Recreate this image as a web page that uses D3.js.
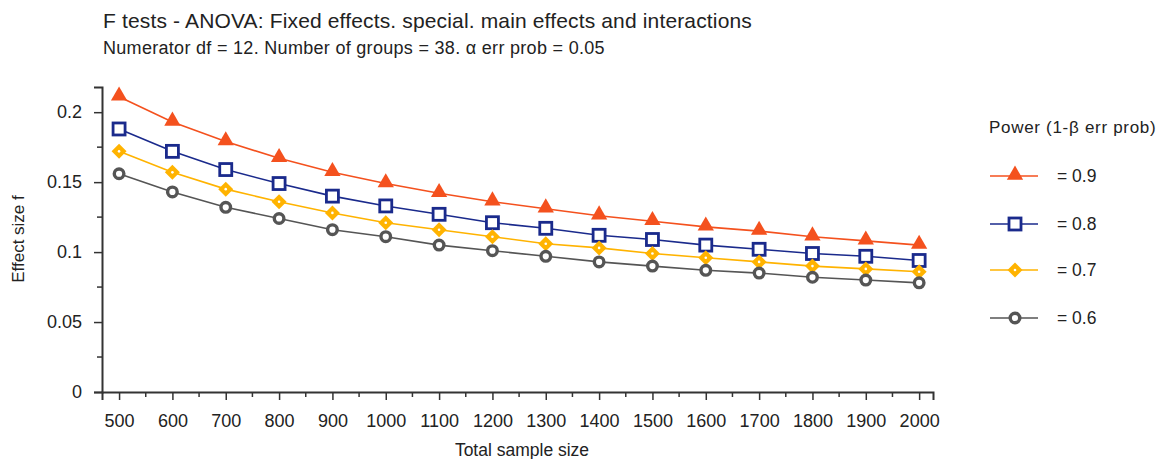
<!DOCTYPE html>
<html>
<head>
<meta charset="utf-8">
<script src="https://cdnjs.cloudflare.com/ajax/libs/d3/7.8.5/d3.min.js"></script>
<style>
  body { margin: 0; background: #fff; }
  text { font-family: "Liberation Sans", Arial, sans-serif; fill: #222; }
</style>
</head>
<body>
<div id="chart"></div>
<script>
// sample sizes on x axis
var sampleSizes = [500, 600, 700, 800, 900, 1000, 1100, 1200, 1300, 1400, 1500, 1600, 1700, 1800, 1900, 2000];

// effect size f for each power level
var power09 = [0.211, 0.193, 0.179, 0.167, 0.157, 0.149, 0.142, 0.136, 0.131, 0.126, 0.122, 0.118, 0.115, 0.111, 0.108, 0.105];
var power08 = [0.188, 0.172, 0.159, 0.149, 0.140, 0.133, 0.127, 0.121, 0.117, 0.112, 0.109, 0.105, 0.102, 0.099, 0.097, 0.094];
var power07 = [0.172, 0.157, 0.145, 0.136, 0.128, 0.121, 0.116, 0.111, 0.106, 0.103, 0.099, 0.096, 0.093, 0.090, 0.088, 0.086];
var power06 = [0.156, 0.143, 0.132, 0.124, 0.116, 0.111, 0.105, 0.101, 0.097, 0.093, 0.090, 0.087, 0.085, 0.082, 0.080, 0.078];

var seriesLabels = ["= 0.9", "= 0.8", "= 0.7", "= 0.6"];
var yTicks = [0, 0.05, 0.1, 0.15, 0.2];
var yMinor = [0.025, 0.075, 0.125, 0.175];

var series = [
  { label: seriesLabels[0], values: power09, color: "#f4511e", shape: "triangle" },
  { label: seriesLabels[1], values: power08, color: "#1a2a8c", shape: "square" },
  { label: seriesLabels[2], values: power07, color: "#ffb300", shape: "diamond" },
  { label: seriesLabels[3], values: power06, color: "#555555", shape: "circle" }
];

var width = 1168, height = 459;

var svg = d3.select("#chart")
  .append("svg")
  .attr("width", width)
  .attr("height", height);

// scales
var x = d3.scaleLinear().domain([468, 2026]).range([102, 933]);
var y = d3.scaleLinear().domain([0, 0.218]).range([392, 87]);

// titles
svg.append("text")
  .attr("x", 103).attr("y", 28)
  .style("font-size", "21px")
  .style("letter-spacing", "0.15px")
  .text("F tests - ANOVA: Fixed effects. special. main effects and interactions");

svg.append("text")
  .attr("x", 103).attr("y", 54)
  .style("font-size", "18px")
  .style("letter-spacing", "0.3px")
  .text("Numerator df = 12. Number of groups = 38. α err prob = 0.05");

// x axis
var xAxis = svg.append("g")
  .attr("transform", "translate(0,392)")
  .call(d3.axisBottom(x).tickValues(sampleSizes).tickSize(8).tickPadding(14).tickFormat(d3.format("d")));
xAxis.selectAll(".tick text").style("font-size", "18px").style("fill", "#222");

// minor x ticks
svg.append("g")
  .selectAll("line")
  .data(sampleSizes.slice(0, -1).map(function(d) { return d + 50; }))
  .enter()
  .append("line")
  .attr("x1", function(d) { return x(d); })
  .attr("x2", function(d) { return x(d); })
  .attr("y1", 392).attr("y2", 397)
  .attr("stroke", "#333").attr("stroke-width", 1.5);

// y axis
var yAxis = svg.append("g")
  .attr("transform", "translate(102,0)")
  .call(d3.axisLeft(y).tickValues(yTicks).tickSize(8).tickPadding(12).tickFormat(function(d) { return String(d); }));
yAxis.selectAll(".tick text").style("font-size", "18px").style("fill", "#222");

svg.append("g")
  .selectAll("line")
  .data(yMinor)
  .enter()
  .append("line")
  .attr("x1", 97).attr("x2", 102)
  .attr("y1", function(d) { return y(d); })
  .attr("y2", function(d) { return y(d); })
  .attr("stroke", "#333").attr("stroke-width", 1.5);

svg.selectAll(".domain").attr("stroke", "#333").attr("stroke-width", 2);
svg.selectAll(".tick line").attr("stroke", "#333").attr("stroke-width", 1.5);

// axis labels
svg.append("text")
  .attr("x", 522).attr("y", 456)
  .attr("text-anchor", "middle")
  .style("font-size", "17.5px")
  .text("Total sample size");

svg.append("text")
  .attr("transform", "translate(24,239) rotate(-90)")
  .attr("text-anchor", "middle")
  .style("font-size", "17px")
  .text("Effect size f");

// marker drawing
function drawMarker(g, shape, color) {
  if (shape === "triangle") {
    g.append("path").attr("d", d3.symbol().type(d3.symbolTriangle).size(115)()).attr("fill", color).attr("transform", "translate(0,-1)");
  } else if (shape === "square") {
    g.append("rect").attr("x", -6).attr("y", -6).attr("width", 12).attr("height", 12)
      .attr("fill", "#fff").attr("stroke", color).attr("stroke-width", 2.8);
  } else if (shape === "diamond") {
    g.append("path").attr("d", "M0,-7.5L7.5,0L0,7.5L-7.5,0Z").attr("fill", color);
    g.append("circle").attr("r", 1.3).attr("fill", "#fff");
  } else {
    g.append("circle").attr("r", 4.8).attr("fill", "#fff").attr("stroke", color).attr("stroke-width", 3.4);
  }
}

var line = d3.line()
  .x(function(d, i) { return x(sampleSizes[i]); })
  .y(function(d) { return y(d); });

series.forEach(function(s) {
  svg.append("path")
    .datum(s.values)
    .attr("fill", "none")
    .attr("stroke", s.color)
    .attr("stroke-width", 1.6)
    .attr("d", line);

  s.values.forEach(function(v, i) {
    var g = svg.append("g").attr("transform", "translate(" + x(sampleSizes[i]) + "," + y(v) + ")");
    drawMarker(g, s.shape, s.color);
  });
});

// legend
svg.append("text")
  .attr("x", 989).attr("y", 133)
  .style("font-size", "17px")
  .style("letter-spacing", "0.7px")
  .text("Power (1-β err prob)");

var legend = svg.append("g")
  .selectAll("g")
  .data(series)
  .enter()
  .append("g")
  .attr("transform", function(d, i) { return "translate(0," + [176, 224, 270, 318][i] + ")"; });

legend.append("line")
  .attr("x1", 990).attr("x2", 1038)
  .attr("stroke", function(d) { return d.color; })
  .attr("stroke-width", 1.6);

legend.each(function(d) {
  var g = d3.select(this).append("g").attr("transform", "translate(1015,0)");
  drawMarker(g, d.shape, d.color);
});

legend.append("text")
  .attr("x", 1057).attr("y", 6)
  .style("font-size", "17.5px")
  .text(function(d) { return d.label; });
</script>
</body>
</html>
